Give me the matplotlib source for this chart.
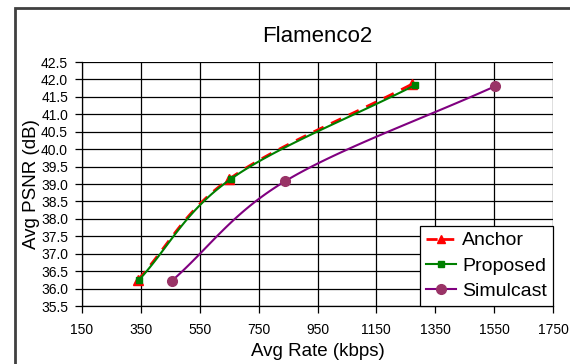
import numpy as np
import matplotlib
matplotlib.use("Agg")
import matplotlib.pyplot as plt
from matplotlib.patches import Rectangle
from matplotlib.lines import Line2D

plt.rcParams['font.family'] = ['Liberation Sans', 'DejaVu Sans']

title = "Flamenco2"
series_names = ["Anchor", "Proposed", "Simulcast"]
anchor_rate = [340, 650, 1270]
anchor_psnr = [36.25, 39.14, 41.86]
proposed_rate = [344, 655, 1282]
proposed_psnr = [36.25, 39.14, 41.84]
simulcast_rate = [455, 840, 1552]
simulcast_psnr = [36.22, 39.08, 41.80]
x_ticks = [150, 350, 550, 750, 950, 1150, 1350, 1550, 1750]
y_ticks = [35.5, 36.0, 36.5, 37.0, 37.5, 38.0, 38.5, 39.0, 39.5, 40.0, 40.5, 41.0, 41.5, 42.0, 42.5]


def smooth(xs, ys, n=40):
    # Catmull-Rom smoothing between data points (like Excel "smoothed line")
    x = np.asarray(xs, float); y = np.asarray(ys, float)
    px = np.concatenate([[2 * x[0] - x[1]], x, [2 * x[-1] - x[-2]]])
    py = np.concatenate([[2 * y[0] - y[1]], y, [2 * y[-1] - y[-2]]])
    outx, outy = [], []
    t = np.linspace(0, 1, n)
    h00 = 2 * t**3 - 3 * t**2 + 1
    h10 = t**3 - 2 * t**2 + t
    h01 = -2 * t**3 + 3 * t**2
    h11 = t**3 - t**2
    for i in range(1, len(px) - 2):
        for P, out in ((px, outx), (py, outy)):
            p0, p1, p2, p3 = P[i - 1], P[i], P[i + 1], P[i + 2]
            m1 = (p2 - p0) / 2
            m2 = (p3 - p1) / 2
            out.extend(h00 * p1 + h10 * m1 + h01 * p2 + h11 * m2)
    return np.array(outx), np.array(outy)


W, H = 570, 364
fig = plt.figure(figsize=(W / 100, H / 100), dpi=100)
L, R, T, B = 82, 553, 62, 306
ax = fig.add_axes([L / W, 1 - B / H, (R - L) / W, (B - T) / H])

# outer chart frame (runs off the right and bottom edges)
fig.patches.append(Rectangle((15 / W, -0.05), 1.2, 1 - 8 / H + 0.05, transform=fig.transFigure,
                             fill=False, edgecolor='#404040', linewidth=2.0))

ax.set_xlim(150, 1750)
ax.set_ylim(35.5, 42.5)
ax.set_xticks(x_ticks)
ax.set_yticks(y_ticks)
ax.set_yticklabels([f"{v:.1f}" for v in y_ticks])
ax.grid(True, color='black', linewidth=0.9)
ax.set_axisbelow(True)
for s in ['top', 'right']:
    ax.spines[s].set_visible(False)
for s in ['left', 'bottom']:
    ax.spines[s].set_color('black')
    ax.spines[s].set_linewidth(0.9)
ax.tick_params(axis='both', direction='out', length=5, width=0.9, labelsize=10, colors='black')
ax.tick_params(axis='x', pad=7)
ax.tick_params(axis='y', pad=5)

# Simulcast
sx, sy = smooth(simulcast_rate, simulcast_psnr)
ax.plot(sx, sy, color='#800080', linewidth=1.5, zorder=3)
ax.plot(simulcast_rate, simulcast_psnr, linestyle='none', marker='o', markersize=7,
        markerfacecolor='#993366', markeredgecolor='#993366', zorder=4)

# Anchor
axx, ayy = smooth(anchor_rate, anchor_psnr)
ax.plot(axx, ayy, color='#ff0000', linewidth=2.0, linestyle=(0, (4, 3)), zorder=3)
ax.plot(anchor_rate, anchor_psnr, linestyle='none', marker='^', markersize=6.5,
        markerfacecolor='#ff0000', markeredgecolor='#ff0000', zorder=4)

# Proposed
px_, py_ = smooth(proposed_rate, proposed_psnr)
ax.plot(px_, py_, color='#008000', linewidth=1.5, zorder=5)
ax.plot(proposed_rate, proposed_psnr, linestyle='none', marker='s', markersize=5,
        markerfacecolor='#008000', markeredgecolor='#008000', zorder=6)

handles = [
    Line2D([], [], color='#ff0000', linewidth=2.0, linestyle=(0, (4, 2)), marker='^', markersize=6),
    Line2D([], [], color='#008000', linewidth=1.5, marker='s', markersize=4),
    Line2D([], [], color='#800080', linewidth=1.5, marker='o', markersize=7,
           markerfacecolor='#993366', markeredgecolor='#993366'),
]
leg = ax.legend(handles, series_names, loc='lower right', bbox_to_anchor=(1.0, 0.0),
                frameon=True, fancybox=False, framealpha=1, edgecolor='black',
                fontsize=14, handlelength=1.55, handletextpad=0.3, borderpad=0.3,
                labelspacing=0.4, borderaxespad=0.0)
leg.get_frame().set_linewidth(0.9)

fig.text((L + R) / 2 / W, 1 - 37 / H, title, fontsize=16, ha='center', va='center')
fig.text((L + R) / 2 / W, 1 - 352 / H, "Avg Rate (kbps)", fontsize=13.5, ha='center', va='center')
fig.text(32 / W, 1 - ((T + B) / 2) / H, "Avg PSNR (dB)", fontsize=13.5, ha='center', va='center',
         rotation=90)

fig.savefig("out.png", dpi=100)
